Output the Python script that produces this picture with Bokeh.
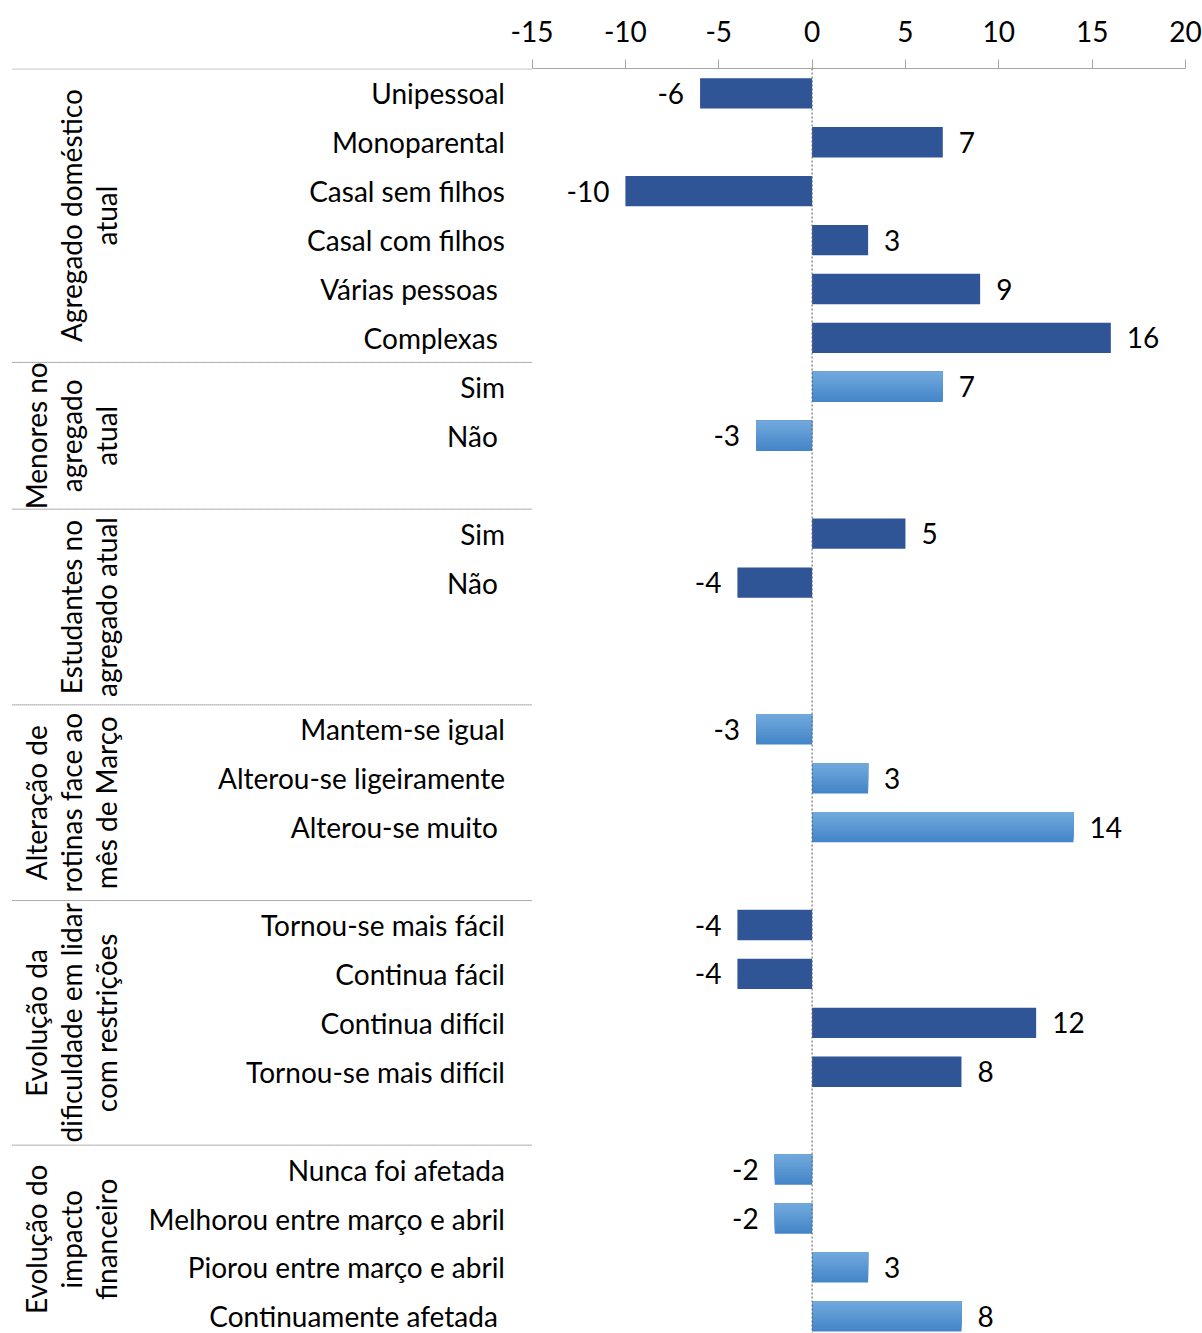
from bokeh.plotting import figure
from bokeh.models import Range1d, FixedTicker, Span
from bokeh.core.properties import value
from bokeh.embed import file_html
from bokeh.resources import INLINE
import math

# ---------------- data ----------------
group_titles = [
    ["Agregado doméstico", "atual"],
    ["Menores no", "agregado", "atual"],
    ["Estudantes no", "agregado atual"],
    ["Alteração de", "rotinas face ao", "mês de Março"],
    ["Evolução da", "dificuldade em lidar", "com restrições"],
    ["Evolução do", "impacto", "financeiro"],
]
group_items = [
    ["Unipessoal", "Monoparental", "Casal sem filhos", "Casal com filhos", "Várias pessoas\u00a0", "Complexas\u00a0"],
    ["Sim", "Não\u00a0"],
    ["Sim", "Não\u00a0"],
    ["Mantem-se igual", "Alterou-se ligeiramente", "Alterou-se muito\u00a0"],
    ["Tornou-se mais fácil", "Continua fácil", "Continua difícil", "Tornou-se mais difícil"],
    ["Nunca foi afetada", "Melhorou entre março e abril", "Piorou entre março e abril", "Continuamente afetada\u00a0"],
]
group_values = [
    [-6, 7, -10, 3, 9, 16],
    [7, -3],
    [5, -4],
    [-3, 3, 14],
    [-4, -4, 12, 8],
    [-2, -2, 3, 8],
]
group_slots = [6, 3, 4, 4, 5, 4]   # rows per group incl. empty rows
group_shade = ["dark", "light", "dark", "light", "dark", "light"]
x_ticks = [-15, -10, -5, 0, 5, 10, 15, 20]

DARK = "#2F5597"
LIGHT_TOP = (0x70, 0xA8, 0xDC)
LIGHT_BOT = (0x44, 0x86, 0xC8)
FONT = "Lato"
FS = "28px"

# ---------------- figure ----------------
Y_TOP, Y_BOT = -0.508, 25.35
p = figure(width=1202, height=1333, output_backend="svg", toolbar_location=None,
           x_range=Range1d(-43.47, 20), y_range=Range1d(Y_BOT, Y_TOP),
           x_axis_location="above", y_axis_location=None,
           min_border_left=0, min_border_right=17, min_border_top=68, min_border_bottom=0,
           background_fill_color="white", border_fill_color="white")
p.outline_line_color = None
p.xgrid.visible = False
p.ygrid.visible = False

ax = p.xaxis[0]
ax.bounds = (x_ticks[0], x_ticks[-1])
ax.ticker = FixedTicker(ticks=x_ticks)
ax.major_label_overrides = {t: str(t) for t in x_ticks}
ax.axis_line_color = "#A6A6A6"
ax.major_tick_line_color = "#A6A6A6"
ax.major_tick_out = 9
ax.major_tick_in = 0
ax.minor_tick_line_color = None
ax.major_label_text_font = FONT
ax.major_label_text_font_size = FS
ax.major_label_text_color = "black"
ax.major_label_standoff = 18

# rows
H = 0.62
slot = 0
bounds = [-0.5]
for g, items in enumerate(group_items):
    start = slot
    ys = [start + i for i in range(len(items))]
    vals = group_values[g]
    zeros = [0] * len(vals)
    if group_shade[g] == "dark":
        p.hbar(y=ys, left=zeros, right=vals, height=H, fill_color=DARK, line_color=None)
    else:
        # vertical gradient: nested bars anchored at the bar top
        nb = 12
        for k in range(nb):
            t = (nb - 1 - k) / (nb - 1)
            col = "#%02x%02x%02x" % tuple(int(round(a + (b - a) * t)) for a, b in zip(LIGHT_TOP, LIGHT_BOT))
            hk = H * (nb - k) / nb
            yk = [y - H / 2 + hk / 2 for y in ys]
            p.hbar(y=yk, left=zeros, right=vals, height=hk, fill_color=col, line_color=None)
    # category labels
    p.text(x=[-16.45] * len(items), y=ys, text=items, text_align="right", text_baseline="middle",
           text_font=value(FONT), text_font_size=FS, text_color="black")
    # value labels
    pos = [(y, v) for y, v in zip(ys, vals) if v > 0]
    neg = [(y, v) for y, v in zip(ys, vals) if v < 0]
    if pos:
        p.text(x=[v for _, v in pos], y=[y for y, _ in pos], text=[str(v) for _, v in pos],
               x_offset=16, text_align="left", text_baseline="middle",
               text_font=value(FONT), text_font_size=FS, text_color="black")
    if neg:
        p.text(x=[v for _, v in neg], y=[y for y, _ in neg], text=[str(v) for _, v in neg],
               x_offset=-16, text_align="right", text_baseline="middle",
               text_font=value(FONT), text_font_size=FS, text_color="black")
    slot += group_slots[g]
    bounds.append(slot - 0.5)

# separators
sep = bounds[:-1]
p.segment(x0=[-42.83] * len(sep), x1=[-15] * len(sep), y0=sep, y1=sep,
          line_color="#595959", line_width=1, line_dash="1 1")

# group titles (rotated)
for g, lines in enumerate(group_titles):
    top = bounds[g]
    bot = bounds[g + 1] if g < len(group_titles) - 1 else Y_BOT
    yc = (top + bot) / 2
    n = len(lines)
    for i, line in enumerate(lines):
        px = 105 - (n - 1 - i) * 35
        p.text(x=[-43.47], y=[yc], text=[line], x_offset=px, angle=math.pi / 2,
               text_align="center", text_baseline="middle",
               text_font=value(FONT), text_font_size=FS, text_color="black")

# zero line
p.add_layout(Span(location=0, dimension="height", line_color="#595959", line_width=1, line_dash="2 2"))

open("out.html", "w").write(file_html(p, INLINE))
